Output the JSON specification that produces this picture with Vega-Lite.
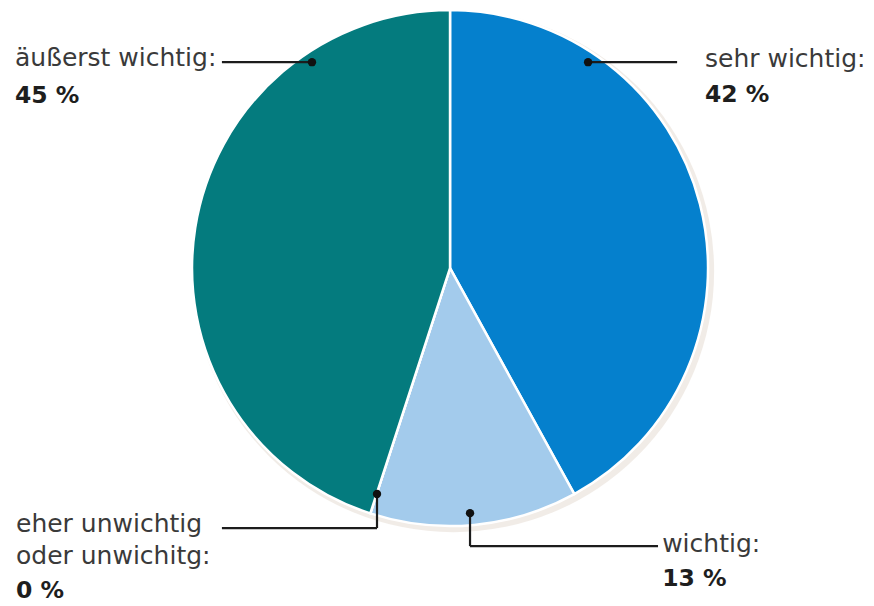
{
  "$schema": "https://vega.github.io/schema/vega-lite/v6.json",
  "autosize": {"type": "fit", "contains": "padding"},
  "width": 874,
  "height": 606,
  "padding": 0,
  "background": "white",
  "config": {"view": {"stroke": null}},
  "datasets": {
    "slices": [
      {"category": "sehr wichtig", "share": 42, "rank": 1},
      {"category": "wichtig", "share": 13, "rank": 2},
      {"category": "eher unwichtig oder unwichtig", "share": 0, "rank": 3},
      {"category": "äußerst wichtig", "share": 45, "rank": 4}
    ],
    "segments": [
      {"x": -88.4, "y": 79.8, "x2": -53.5, "y2": 79.8},
      {"x": 53.5, "y": 79.8, "x2": 88.0, "y2": 79.8},
      {"x": -28.3, "y": -87.6, "x2": -28.3, "y2": -100.8},
      {"x": -28.3, "y": -100.8, "x2": -88.4, "y2": -100.8},
      {"x": 7.75, "y": -95.0, "x2": 7.75, "y2": -107.8},
      {"x": 7.75, "y": -107.8, "x2": 80.6, "y2": -107.8}
    ],
    "dots": [
      {"x": -53.5, "y": 79.8},
      {"x": 53.5, "y": 79.8},
      {"x": -28.3, "y": -87.6},
      {"x": 7.75, "y": -95.0}
    ],
    "labels": [
      {"x": -168.6, "y": 78.3, "text": "äußerst wichtig:", "bold": false},
      {"x": -168.6, "y": 64.0, "text": "45 %", "bold": true},
      {"x": 98.8, "y": 77.9, "text": "sehr wichtig:", "bold": false},
      {"x": 98.8, "y": 64.3, "text": "42 %", "bold": true},
      {"x": -168.2, "y": -102.3, "text": "eher unwichtig", "bold": false},
      {"x": -168.2, "y": -114.7, "text": "oder unwichitg:", "bold": false},
      {"x": -168.2, "y": -127.9, "text": "0 %", "bold": true},
      {"x": 82.2, "y": -110.1, "text": "wichtig:", "bold": false},
      {"x": 82.2, "y": -123.3, "text": "13 %", "bold": true}
    ],
    "shadow": [{"share": 100}]
  },
  "layer": [
    {
      "data": {"name": "shadow"},
      "mark": {"type": "arc", "outerRadius": 261, "color": "#e3d9cf", "opacity": 0.5},
      "encoding": {
        "theta": {"field": "share", "type": "quantitative"},
        "x": {"datum": 1.2, "type": "quantitative", "scale": {"domain": [-174.4, 164.3], "nice": false, "zero": false}, "axis": null},
        "y": {"datum": -1.2, "type": "quantitative", "scale": {"domain": [-131.0, 103.9], "nice": false, "zero": false}, "axis": null}
      }
    },
    {
      "data": {"name": "slices"},
      "mark": {"type": "arc", "outerRadius": 258, "stroke": "white", "strokeWidth": 2.5},
      "encoding": {
        "theta": {"field": "share", "type": "quantitative", "stack": true},
        "order": {"field": "rank", "type": "quantitative"},
        "color": {
          "field": "category",
          "type": "nominal",
          "scale": {
            "domain": ["sehr wichtig", "wichtig", "eher unwichtig oder unwichtig", "äußerst wichtig"],
            "range": ["#0580cd", "#a3cbec", "#6c9aa0", "#047b7e"]
          },
          "legend": null
        },
        "x": {"datum": 0, "type": "quantitative"},
        "y": {"datum": 0, "type": "quantitative"}
      }
    },
    {
      "data": {"name": "segments"},
      "mark": {"type": "rule", "color": "#1c1c1c", "strokeWidth": 2.2},
      "encoding": {
        "x": {"field": "x", "type": "quantitative"},
        "y": {"field": "y", "type": "quantitative"},
        "x2": {"field": "x2"},
        "y2": {"field": "y2"}
      }
    },
    {
      "data": {"name": "dots"},
      "mark": {"type": "point", "filled": true, "color": "#111111", "opacity": 1, "size": 70},
      "encoding": {
        "x": {"field": "x", "type": "quantitative"},
        "y": {"field": "y", "type": "quantitative"}
      }
    },
    {
      "data": {"name": "labels"},
      "transform": [{"filter": "!datum.bold"}],
      "mark": {"type": "text", "align": "left", "baseline": "alphabetic", "font": "DejaVu Sans", "fontSize": 25, "color": "#3a3a3a"},
      "encoding": {
        "x": {"field": "x", "type": "quantitative"},
        "y": {"field": "y", "type": "quantitative"},
        "text": {"field": "text", "type": "nominal"}
      }
    },
    {
      "data": {"name": "labels"},
      "transform": [{"filter": "datum.bold"}],
      "mark": {"type": "text", "align": "left", "baseline": "alphabetic", "font": "DejaVu Sans", "fontSize": 23.5, "fontWeight": "bold", "color": "#1e1e1e"},
      "encoding": {
        "x": {"field": "x", "type": "quantitative"},
        "y": {"field": "y", "type": "quantitative"},
        "text": {"field": "text", "type": "nominal"}
      }
    }
  ]
}
